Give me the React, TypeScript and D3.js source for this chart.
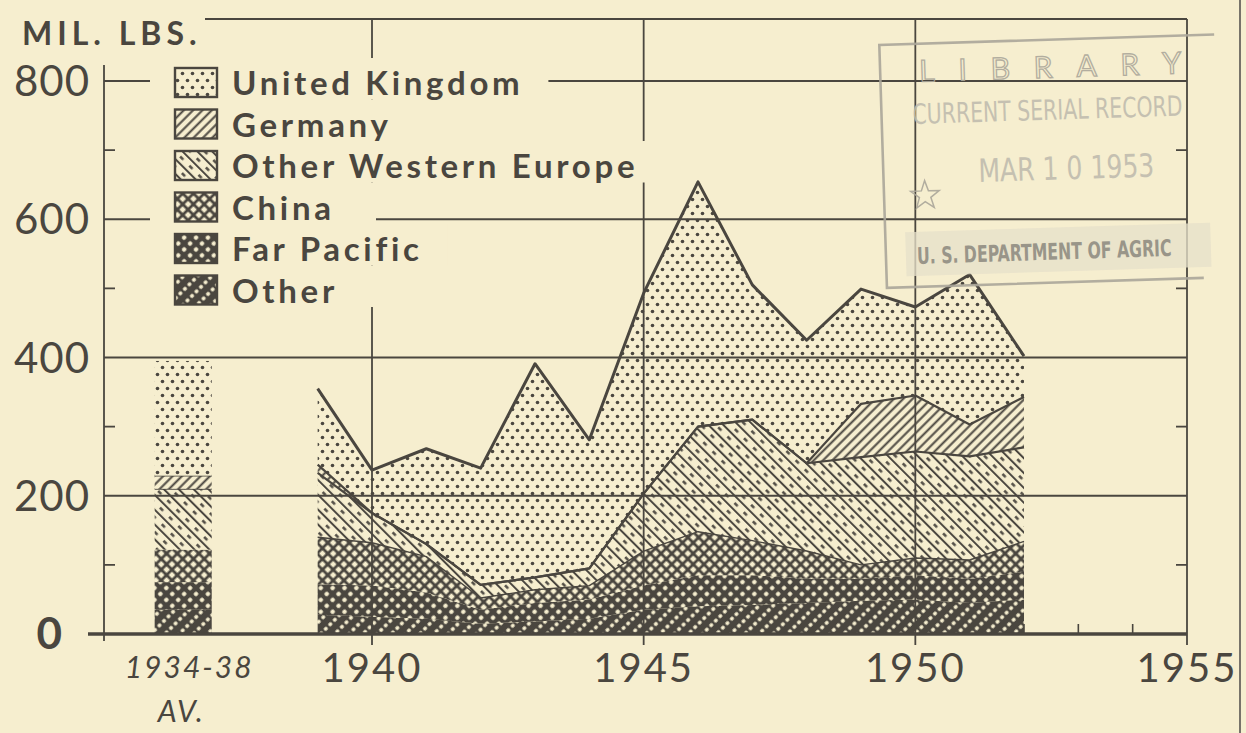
"use client";

import React, { useRef, useEffect } from "react";
import * as d3 from "d3";

// Annual values, million lbs, 1939-1952
const years = [1939, 1940, 1941, 1942, 1943, 1944, 1945, 1946, 1947, 1948, 1949, 1950, 1951, 1952];
const unitedKingdom = [110, 62, 138, 169, 309, 186, 290, 354, 195, 178, 166, 128, 217, 59];
const germany = [12, 0, 0, 0, 0, 0, 0, 0, 0, 0, 77, 81, 46, 73];
const otherWesternEurope = [93, 43, 18, 19, 18, 25, 83, 152, 175, 127, 156, 154, 150, 136];
const china = [68, 62, 52, 17, 19, 20, 50, 63, 50, 40, 20, 25, 27, 44];
const farPacific = [44, 45, 38, 20, 27, 28, 35, 45, 43, 35, 32, 35, 35, 40];
const other = [28, 25, 22, 15, 18, 22, 35, 40, 42, 45, 48, 50, 45, 50];

// 1934-38 average, bottom to top: other, far pacific, china, other w. europe, germany, uk
const prewarAverage = [35, 40, 47, 88, 19, 166];

const seriesKeys = ["other", "farPacific", "china", "otherWesternEurope", "germany", "unitedKingdom"];
const legendKeys = ["unitedKingdom", "germany", "otherWesternEurope", "china", "farPacific", "other"];
const legendLabels = ["United Kingdom", "Germany", "Other Western Europe", "China", "Far Pacific", "Other"];

const yTicks = [0, 200, 400, 600, 800];
const yMinorTicks = [100, 300, 500, 700];
const xTicks = [1940, 1945, 1950, 1955];
const prewarLabel = ["1934-38", "AV."];

const INK = "#4a463f";
const PAPER = "#f6eecf";
const STAMP = "#aba79a";
const FONT = "Lato, 'Open Sans', sans-serif";
const NARROW = "'Liberation Sans Narrow', 'DejaVu Sans Condensed', sans-serif";

export default function App() {
  const svgRef = useRef<SVGSVGElement>(null);

  useEffect(() => {
    if (!svgRef.current) return;
    const svg = d3.select(svgRef.current);
    svg.selectAll("*").remove();

    const width = 1246;
    const height = 733;
    const x = d3.scaleLinear().domain([1940, 1955]).range([372, 1187]);
    const y = d3.scaleLinear().domain([0, 800]).range([634, 81]);
    const left = 104;
    const right = x(1955);
    const top = 19;

    svg.append("rect").attr("width", width).attr("height", height).attr("fill", PAPER);

    // patterns
    const defs = svg.append("defs");
    const mk = (id: string, w: number, h: number, rot: number) => {
      const p = defs
        .append("pattern")
        .attr("id", id)
        .attr("patternUnits", "userSpaceOnUse")
        .attr("width", w)
        .attr("height", h);
      if (rot) p.attr("patternTransform", `rotate(${rot})`);
      return p;
    };

    const pUk = mk("p-uk", 10, 14, 0);
    pUk.append("rect").attr("width", 10).attr("height", 14).attr("fill", PAPER);
    pUk.append("circle").attr("cx", 2.5).attr("cy", 3.5).attr("r", 1.8).attr("fill", INK);
    pUk.append("circle").attr("cx", 7.5).attr("cy", 10.5).attr("r", 1.8).attr("fill", INK);

    const pGer = mk("p-ger", 6.6, 10, 45);
    pGer.append("rect").attr("width", 6.6).attr("height", 10).attr("fill", PAPER);
    pGer.append("line").attr("x1", 3.3).attr("x2", 3.3).attr("y1", 0).attr("y2", 10)
      .attr("stroke", INK).attr("stroke-width", 2);

    const pOwe = mk("p-owe", 10.5, 13, -45);
    pOwe.append("rect").attr("width", 10.5).attr("height", 13).attr("fill", PAPER);
    pOwe.append("line").attr("x1", 1).attr("x2", 1).attr("y1", 0).attr("y2", 13)
      .attr("stroke", INK).attr("stroke-width", 2);
    pOwe.append("line").attr("x1", 6.2).attr("x2", 6.2).attr("y1", 4).attr("y2", 8.5)
      .attr("stroke", INK).attr("stroke-width", 2.4);

    const pChi = mk("p-chi", 7.6, 7.6, 45);
    pChi.append("rect").attr("width", 7.6).attr("height", 7.6).attr("fill", INK);
    pChi.append("rect").attr("x", 1.4).attr("y", 1.4).attr("width", 4.8).attr("height", 4.8)
      .attr("rx", 0.6).attr("fill", PAPER);

    const pFp = mk("p-fp", 8.4, 8.4, 45);
    pFp.append("rect").attr("width", 8.4).attr("height", 8.4).attr("fill", INK);
    pFp.append("rect").attr("x", 2.2).attr("y", 2.2).attr("width", 4).attr("height", 4)
      .attr("rx", 1.2).attr("fill", PAPER);

    const pOth = mk("p-oth", 10, 6.4, 45);
    pOth.append("rect").attr("width", 10).attr("height", 6.4).attr("fill", INK);
    pOth.append("rect").attr("x", 3.3).attr("y", 1.1).attr("width", 3.4).attr("height", 4)
      .attr("rx", 1.2).attr("fill", PAPER);

    const fills: Record<string, string> = {
      unitedKingdom: "url(#p-uk)",
      germany: "url(#p-ger)",
      otherWesternEurope: "url(#p-owe)",
      china: "url(#p-chi)",
      farPacific: "url(#p-fp)",
      other: "url(#p-oth)",
    };

    // minor year ticks on the baseline (hidden under the data where it runs)
    d3.range(1941, 1955)
      .filter((yr) => !xTicks.includes(yr))
      .forEach((yr) => {
        svg.append("line").attr("x1", x(yr)).attr("x2", x(yr)).attr("y1", y(0) - 10).attr("y2", y(0))
          .attr("stroke", INK).attr("stroke-width", 1.6);
      });

    // stacked areas
    const rows = years.map((yr, i) => ({
      year: yr,
      unitedKingdom: unitedKingdom[i],
      germany: germany[i],
      otherWesternEurope: otherWesternEurope[i],
      china: china[i],
      farPacific: farPacific[i],
      other: other[i],
    }));
    const stacked = d3.stack<any>().keys(seriesKeys)(rows);
    const area = d3
      .area<any>()
      .x((d) => x(d.data.year))
      .y0((d) => y(d[0]))
      .y1((d) => y(d[1]));
    const edge = d3
      .line<any>()
      .x((d) => x(d.data.year))
      .y((d) => y(d[1]));

    stacked.forEach((s) => {
      svg.append("path").datum(s).attr("d", area).attr("fill", fills[s.key]);
    });
    stacked.forEach((s) => {
      if (s.key === "other" || s.key === "farPacific") return;
      svg.append("path").datum(s).attr("d", edge).attr("fill", "none").attr("stroke", INK)
        .attr("stroke-linejoin", "round")
        .attr("stroke-width", s.key === "unitedKingdom" ? 3 : s.key === "china" ? 1.4 : 2.2);
    });

    // 1934-38 average bar
    const barX0 = x(1936);
    const barX1 = x(1937.05);
    let acc = 0;
    prewarAverage.forEach((v, i) => {
      svg.append("rect").attr("x", barX0).attr("width", barX1 - barX0)
        .attr("y", y(acc + v)).attr("height", y(acc) - y(acc + v)).attr("fill", fills[seriesKeys[i]]);
      if (seriesKeys[i] === "otherWesternEurope" || seriesKeys[i] === "germany") {
        svg.append("line").attr("x1", barX0).attr("x2", barX1).attr("y1", y(acc + v)).attr("y2", y(acc + v))
          .attr("stroke", INK).attr("stroke-width", 1.8);
      }
      acc += v;
    });

    // grid and frame
    const grid = svg.append("g").attr("stroke", INK).attr("stroke-width", 1.8);
    [200, 400, 600, 800].forEach((v) => {
      grid.append("line").attr("x1", left).attr("x2", right).attr("y1", y(v)).attr("y2", y(v));
    });
    xTicks.forEach((yr) => {
      grid.append("line").attr("x1", x(yr)).attr("x2", x(yr)).attr("y1", top).attr("y2", y(0) + 11);
    });
    grid.append("line").attr("x1", 205).attr("x2", right).attr("y1", top).attr("y2", top);
    grid.append("line").attr("x1", left).attr("x2", left).attr("y1", 65).attr("y2", y(0) + 7);
    yMinorTicks.forEach((v) => {
      grid.append("line").attr("x1", left).attr("x2", left + 11).attr("y1", y(v)).attr("y2", y(v));
      grid.append("line").attr("x1", right - 11).attr("x2", right).attr("y1", y(v)).attr("y2", y(v));
    });
    svg.append("line").attr("x1", 88).attr("x2", right).attr("y1", y(0)).attr("y2", y(0))
      .attr("stroke", INK).attr("stroke-width", 3.6);
    // page edge
    svg.append("line").attr("x1", 1240).attr("x2", 1240).attr("y1", 0).attr("y2", height)
      .attr("stroke", "#77736a").attr("stroke-width", 2);

    // axis labels
    yTicks.forEach((v) => {
      const zero = v === 0;
      svg.append("text")
        .attr("x", zero ? 63 : 90)
        .attr("y", y(v) + 15)
        .attr("text-anchor", "end")
        .attr("fill", INK)
        .attr("font-family", FONT)
        .attr("font-size", zero ? 44 : 42)
        .attr("font-weight", zero ? 700 : 400)
        .attr("letter-spacing", 1)
        .text(String(v));
    });
    xTicks.forEach((yr) => {
      svg.append("text")
        .attr("x", x(yr))
        .attr("y", 682)
        .attr("text-anchor", "middle")
        .attr("fill", INK)
        .attr("font-family", FONT)
        .attr("font-size", 40)
        .attr("font-weight", 400)
        .attr("letter-spacing", 2)
        .text(String(yr));
    });
    const barMid = (barX0 + barX1) / 2;
    prewarLabel.forEach((t, i) => {
      svg.append("text")
        .attr("x", barMid + (i === 0 ? 6 : -2))
        .attr("y", i === 0 ? 678 : 722)
        .attr("text-anchor", "middle")
        .attr("fill", INK)
        .attr("font-family", FONT)
        .attr("font-size", 30)
        .attr("font-style", "italic")
        .attr("font-weight", 400)
        .attr("letter-spacing", 2)
        .text(t);
    });
    svg.append("text")
      .attr("x", 22)
      .attr("y", 45)
      .attr("fill", INK)
      .attr("font-family", FONT)
      .attr("font-size", 32)
      .attr("font-weight", 700)
      .attr("letter-spacing", 5)
      .text("MIL. LBS.");

    // legend
    const legend = svg.append("g");
    const rowH = 41.5;
    const row0 = 68;
    legendKeys.forEach((k, i) => {
      const ty = row0 + i * rowH;
      const bg = legend.append("rect").attr("fill", PAPER);
      legend.append("rect").attr("x", 175).attr("y", ty).attr("width", 42).attr("height", 29)
        .attr("fill", fills[k]).attr("stroke", INK).attr("stroke-width", 2.4);
      const txt = legend.append("text")
        .attr("x", 232)
        .attr("y", ty + 27)
        .attr("fill", INK)
        .attr("font-family", FONT)
        .attr("font-size", 33)
        .attr("font-weight", 700)
        .attr("letter-spacing", 3.7)
        .text(legendLabels[i]);
      const end = 232 + ((txt.node() as SVGTextElement).getComputedTextLength() || 0);
      bg.attr("x", 150).attr("y", ty - 10).attr("width", Math.max(end + 25, 376) - 150).attr("height", rowH);
    });

    // library stamp (faded rubber stamp over the upper right)
    const stamp = svg.append("g").attr("transform", "rotate(-1.8 1040 160)").attr("opacity", 0.9);
    stamp.append("rect").attr("x", 903).attr("y", 228).attr("width", 305).attr("height", 44)
      .attr("fill", "#e6e0ca").attr("opacity", 0.85);
    stamp.append("path")
      .attr("d", "M1218,40 L883,40 L883,283 L1200,283")
      .attr("fill", "none").attr("stroke", STAMP).attr("stroke-width", 2.6);
    stamp.append("text").attr("x", 922).attr("y", 78).attr("fill", "none").attr("stroke", STAMP)
      .attr("stroke-width", 1.3).attr("font-family", FONT).attr("font-size", 30)
      .attr("textLength", 262).attr("lengthAdjust", "spacing").text("LIBRARY");
    stamp.append("text").attr("x", 914).attr("y", 120).attr("fill", "#c0bcae")
      .attr("font-family", NARROW)
      .attr("font-size", 28).attr("textLength", 270).attr("lengthAdjust", "spacingAndGlyphs")
      .text("CURRENT SERIAL RECORD");
    stamp.append("text").attr("x", 978).attr("y", 180).attr("fill", "#c0bcae")
      .attr("font-family", NARROW)
      .attr("font-size", 32).attr("textLength", 176).attr("lengthAdjust", "spacingAndGlyphs")
      .text("MAR 1 0 1953");
    const star = d3.range(10).map((i) => {
      const r = i % 2 === 0 ? 15 : 6;
      const a = (Math.PI / 5) * i - Math.PI / 2;
      return [924 + r * Math.cos(a), 192 + r * Math.sin(a)] as [number, number];
    });
    stamp.append("path").attr("d", d3.line()(star) + "Z").attr("fill", "none").attr("stroke", STAMP)
      .attr("stroke-width", 1.5);
    stamp.append("text").attr("transform", "translate(914,260) scale(0.76,1)").attr("fill", "#8f8c82")
      .attr("font-family", NARROW)
      .attr("font-weight", 700).attr("font-size", 23)
      .text("U. S. DEPARTMENT OF AGRIC");
  }, []);

  return (
    <svg
      ref={svgRef}
      width={1246}
      height={733}
      style={{ position: "absolute", left: 0, top: 0, display: "block" }}
    />
  );
}
